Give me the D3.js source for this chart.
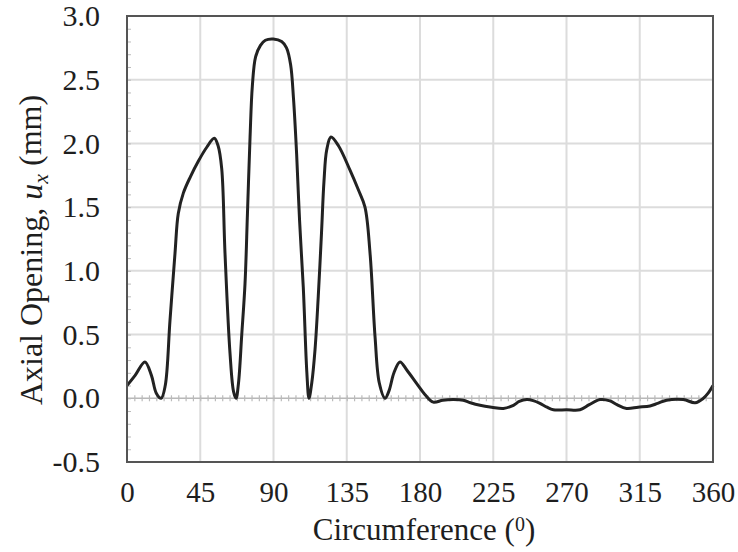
<!DOCTYPE html>
<html>
<head>
<meta charset="utf-8">
<script src="https://cdn.jsdelivr.net/npm/d3@7"></script>
<style>
  body { margin: 0; background: #fff; }
  svg text { font-family: "Liberation Serif", "Times New Roman", serif !important; fill: #1e1e1e; }
</style>
</head>
<body>
<script>
// circumference angle (deg) and axial opening (mm)
var angle = [0, 5, 11, 15, 18, 21, 23.5, 26.4, 29.5, 31.5, 34.6, 39, 43.8, 49, 53.6, 56, 58.2, 60.2, 63.3, 65.5,
    67, 68.5, 70.5, 72.5, 74, 75.6, 77, 79, 82, 85, 89.9, 95, 98, 100.5, 102.3, 104.2, 106, 108.3, 110.5, 111.8,
    113.5, 115.5, 117.5, 119.5, 121, 122.7, 125.3, 130, 137, 142, 146.2, 149.3, 152.4, 155, 158.5, 161, 164,
    167.7, 172, 178, 183, 188.2, 194, 200.5, 206.6, 211, 216.9, 224, 231.2, 237.4, 241, 245.6, 250,
    253.7, 258, 261.9, 270, 278.3, 284, 290.6, 296.7, 301, 306.9, 314, 321.3, 326, 331.5, 341.8, 349,
    354.1, 357, 360];
var opening = [0.10, 0.18, 0.285, 0.18, 0.04, 0.0, 0.1, 0.61, 1.14, 1.45, 1.61, 1.74, 1.86, 1.97, 2.04, 1.98, 1.80, 1.14, 0.35, 0.05,
    0.0, 0.12, 0.5, 0.9, 1.45, 2.05, 2.45, 2.68, 2.77, 2.81, 2.82, 2.8, 2.75, 2.62, 2.35, 1.92, 1.4, 0.87, 0.2, 0.0,
    0.12, 0.38, 0.8, 1.3, 1.7, 1.95, 2.05, 1.98, 1.79, 1.64, 1.50, 1.14, 0.48, 0.12, 0.0, 0.06, 0.2,
    0.285, 0.22, 0.115, 0.03, -0.03, -0.015, -0.01, -0.015, -0.035, -0.055, -0.07, -0.08, -0.055, -0.025, -0.01, -0.02,
    -0.04, -0.07, -0.09, -0.09, -0.09, -0.05, -0.01, -0.02, -0.05, -0.08, -0.07, -0.06, -0.04, -0.015, -0.01, -0.035,
    0.0, 0.04, 0.10];

var xTicks = [0, 45, 90, 135, 180, 225, 270, 315, 360];
var yTicks = [-0.5, 0.0, 0.5, 1.0, 1.5, 2.0, 2.5, 3.0];

var margin = {top: 16, right: 25, bottom: 90, left: 127};
var width = 738 - margin.left - margin.right;
var height = 552 - margin.top - margin.bottom;

var svg = d3.select("body")
    .append("svg")
    .attr("width", 738)
    .attr("height", 552)
    .append("g")
    .attr("transform", "translate(" + margin.left + "," + margin.top + ")");

var x = d3.scaleLinear().domain([0, 360]).range([0, width]);
var y = d3.scaleLinear().domain([-0.5, 3.0]).range([height, 0]);

// grid
svg.append("g")
    .selectAll("line")
    .data(xTicks.slice(1, -1))
    .enter()
    .append("line")
    .attr("x1", function (d) { return x(d); })
    .attr("x2", function (d) { return x(d); })
    .attr("y1", 0)
    .attr("y2", height)
    .style("stroke", "#dcdcdc")
    .style("stroke-width", 2);

svg.append("g")
    .selectAll("line")
    .data(yTicks.filter(function (d) { return d > -0.5 && d < 3.0 && d !== 0; }))
    .enter()
    .append("line")
    .attr("x1", 0)
    .attr("x2", width)
    .attr("y1", function (d) { return y(d); })
    .attr("y2", function (d) { return y(d); })
    .style("stroke", "#dcdcdc")
    .style("stroke-width", 2);

// zero line with minor ticks
svg.append("line")
    .attr("x1", 0).attr("x2", width)
    .attr("y1", y(0)).attr("y2", y(0))
    .style("stroke", "#b8b8b8")
    .style("stroke-width", 1.5);

svg.append("g")
    .attr("transform", "translate(0," + y(0) + ")")
    .call(d3.axisBottom(x).tickValues(d3.range(4.5, 360, 4.5)).tickSize(3).tickFormat(""))
    .call(function (g) {
        g.select(".domain").remove();
        g.selectAll("line").attr("y1", -3).style("stroke", "#bbb").style("stroke-width", 1.2);
    });

// minor ticks on the left axis
svg.append("g")
    .call(d3.axisRight(y).tickValues(d3.range(-0.4, 3.0, 0.1)).tickSize(4).tickFormat(""))
    .call(function (g) {
        g.select(".domain").remove();
        g.selectAll("line").style("stroke", "#bbb").style("stroke-width", 1);
    });

// curve
var pts = angle.map(function (a, i) { return [a, opening[i]]; });
var line = d3.line()
    .x(function (d) { return x(d[0]); })
    .y(function (d) { return y(d[1]); })
    .curve(d3.curveCatmullRom.alpha(0.5));

svg.append("path")
    .datum(pts)
    .attr("d", line)
    .style("fill", "none")
    .style("stroke", "#222")
    .style("stroke-width", 3)
    .style("stroke-linejoin", "round");

// frame
svg.append("rect")
    .attr("width", width)
    .attr("height", height)
    .style("fill", "none")
    .style("stroke", "#555")
    .style("stroke-width", 2);

// tick labels
svg.append("g")
    .attr("transform", "translate(0," + height + ")")
    .call(d3.axisBottom(x).tickValues(xTicks).tickSize(0).tickPadding(19).tickFormat(d3.format("d")))
    .call(function (g) {
        g.select(".domain").remove();
        g.selectAll("text").style("font-size", "29px");
    });

svg.append("g")
    .call(d3.axisLeft(y).tickValues(yTicks).tickSize(0).tickPadding(27)
        .tickFormat(function (d) { return d3.format(".1f")(d).replace("−", "-"); }))
    .call(function (g) {
        g.select(".domain").remove();
        g.selectAll("text").style("font-size", "30px");
    });

// axis titles
var xt = svg.append("text")
    .attr("x", width / 2 + 4)
    .attr("y", height + 78)
    .attr("text-anchor", "middle")
    .style("font-size", "31px");
xt.append("tspan").text("Circumference (");
xt.append("tspan").attr("dy", "-0.45em").style("font-size", "20px").text("0");
xt.append("tspan").attr("dy", "0.3em").text(")");

var yt = svg.append("text")
    .attr("transform", "translate(-85,234) rotate(-90)")
    .attr("text-anchor", "middle")
    .style("font-size", "32px");
yt.append("tspan").text("Axial Opening, ");
yt.append("tspan").style("font-style", "italic").text("u");
yt.append("tspan").attr("dy", "0.25em").style("font-style", "italic").style("font-size", "22px").text("x");
yt.append("tspan").attr("dy", "-0.2em").text(" (mm)");
</script>
</body>
</html>
